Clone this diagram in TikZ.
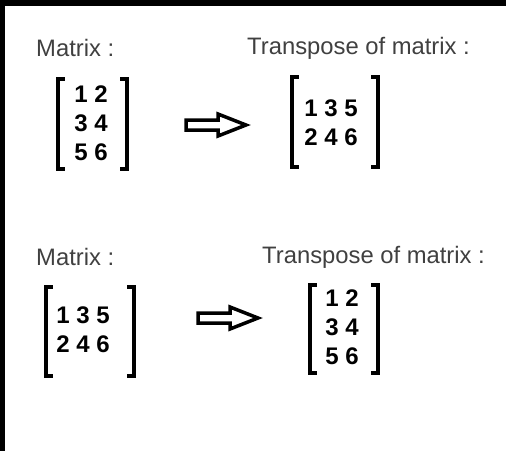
\documentclass[tikz,border=0pt]{standalone}
\usepackage{fontspec}
\setmainfont{Liberation Sans}
\begin{document}
\begin{tikzpicture}[x=1pt,y=-1pt,
	caption/.style={anchor=west,inner sep=0pt,text=black!75,font=\fontsize{23.8}{24}\selectfont},
	entries/.style={inner sep=0pt,align=center,font=\fontsize{24}{29}\selectfont\bfseries},
	frame/.style 2 args={inner sep=0pt,minimum width=#1pt,minimum height=#2pt},
	brk/.style={line width=4.5pt},
	arw/.style={line width=3.5pt,line join=miter}]
	\def \sr {7}%longueur des crochets
	% fond
	\fill (0,0) rectangle (506,451);
	\fill[white] (5,6) rectangle (506,451);
	% titres
	\node[caption] (t1) at (36,48) {Matrix :};
	\node[caption] (t2) at (247,48) {Transpose of matrix :};
	\node[caption] (t3) at (36,257) {Matrix :};
	\node[caption] (t4) at (262,257) {Transpose of matrix :};
	% cadres des matrices
	\node[frame={69}{90}] (A) at (92.5,124) {};
	\node[frame={86}{90}] (B) at (335,122) {};
	\node[frame={88}{89}] (C) at (90,331.5) {};
	\node[frame={68}{88}] (D) at (344,329) {};
	\foreach \m in {A,B,C,D}{
		\draw[brk] ([xshift=\sr pt]\m.north west) -- (\m.north west) -- (\m.south west) -- ([xshift=\sr pt]\m.south west);
		\draw[brk] ([xshift=-\sr pt]\m.north east) -- (\m.north east) -- (\m.south east) -- ([xshift=-\sr pt]\m.south east);
	}
	% coefficients
	\node[entries] (a) at (91,123) {1 2\\3 4\\5 6};
	\node[entries] (b) at (331,123) {1 3 5\\2 4 6};
	\node[entries] (c) at (83,330) {1 3 5\\2 4 6};
	\node[entries] (d) at (342,327) {1 2\\3 4\\5 6};
	% fleches
	\coordinate (f1) at (186,125);
	\coordinate (f2) at (198,318);
	\foreach \f in {f1,f2}{
		\draw[arw] (\f) ++(0,-5) -- ++(32,0) -- ++(0,-6) -- ++(28,11) -- ++(-28,11) -- ++(0,-6) -- ++(-32,0) -- cycle;
	}
\end{tikzpicture}
\end{document}
